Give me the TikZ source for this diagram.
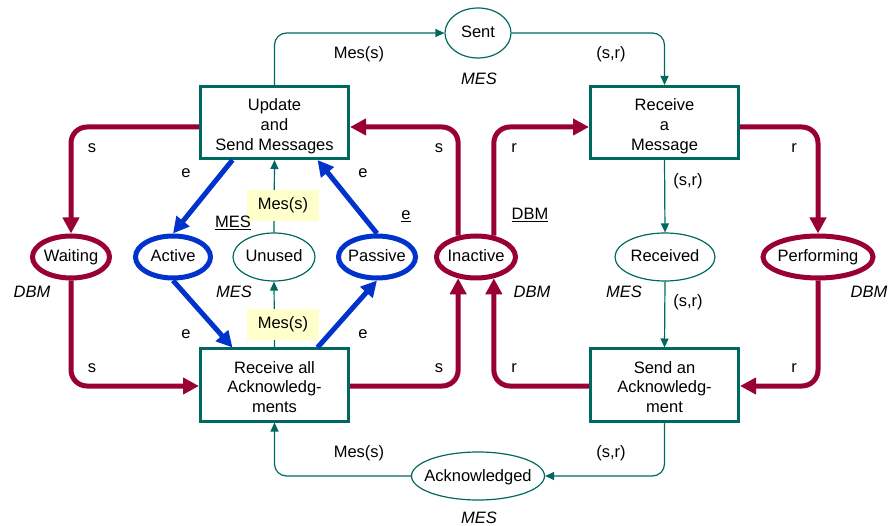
\documentclass[tikz,border=0pt]{standalone}
\usepackage{fontspec}
\setmainfont{Liberation Sans}
\usetikzlibrary{shapes.geometric,arrows.meta}
\definecolor{teal1}{HTML}{00695F}
\definecolor{maroon1}{HTML}{990033}
\definecolor{blue1}{HTML}{0033CC}
\definecolor{yel}{HTML}{FFFFCC}
\newcommand{\boxtext}[1]{\raisebox{-4pt}[\height][\depth]{\begin{tabular}{@{}c@{}}#1\end{tabular}}}
\begin{document}
\begin{tikzpicture}[x=1pt,y=-1pt, font=\fontsize{16.5}{20}\selectfont,
 trans/.style={draw=teal1, line width=3pt, minimum width=148pt, minimum height=72pt, inner sep=0pt},
 plc/.style={ellipse, draw=teal1, line width=1.2pt, inner ysep=0pt, inner xsep=-10pt, text height=12pt, text depth=2pt},
 tplc/.style={ellipse, draw=maroon1, line width=5pt, inner ysep=0pt, inner xsep=-10pt, minimum height=42pt, text height=12pt, text depth=2pt},
 bplc/.style={ellipse, draw=blue1, line width=5pt, inner ysep=0pt, inner xsep=-10pt, minimum height=42pt, text height=12pt, text depth=2pt},
 tarc/.style={draw=teal1, line width=1.2pt, -{Triangle[length=9pt,width=8pt]}, rounded corners=12pt},
 thk/.style={draw=maroon1, line width=5pt, -{Triangle[length=16pt,width=16pt]}, rounded corners=16pt},
 blu/.style={draw=blue1, line width=5pt, -{Triangle[length=16pt,width=16pt]}},
 lbl/.style={inner sep=0pt},
 yl/.style={fill=yel, minimum width=72pt, minimum height=31pt, inner sep=0pt},
]
\useasboundingbox (0,0) rectangle (891,526);
% transitions
\node[trans] (upd) at (274.5,122.5) {\boxtext{Update\\and\\Send Messages}};
\node[trans] (rmsg) at (664.5,122.5) {\boxtext{Receive\\a\\Message}};
\node[trans] (rall) at (274.5,385) {\boxtext{Receive all\\Acknowledg-\\ments}};
\node[trans] (sack) at (664.5,385) {\boxtext{Send an\\Acknowledg-\\ment}};
% places
\node[tplc, minimum width=77pt] (wait) at (71,257) {Waiting};
\node[bplc, minimum width=75pt] (act) at (173,257) {Active};
\node[plc, minimum width=82pt, minimum height=48pt] (unu) at (274,257) {Unused};
\node[bplc, minimum width=77pt] (pas) at (377,257) {Passive};
\node[tplc, minimum width=79pt] (ina) at (476,257) {Inactive};
\node[plc, minimum width=100pt, minimum height=48pt] (recd) at (665,257) {Received};
\node[tplc, minimum width=110pt] (perf) at (818,257) {Performing};
\node[plc, minimum width=66pt, minimum height=50pt] (sent) at (478,33) {Sent};
\node[plc, minimum width=133pt, minimum height=48pt] (ackd) at (478,476) {Acknowledged};
% thin arcs
\draw[tarc] (upd.north) |- (sent.west);
\draw[tarc] (sent.east) -| (rmsg.north);
\draw[tarc] (rmsg.south) -- (recd.north);
\draw[tarc] (recd.south) -- (sack.north);
\draw[tarc] (sack.south) |- (ackd.east);
\draw[tarc] (ackd.west) -| (rall.south);
\draw[tarc] (unu.north) -- (upd.south);
\draw[tarc] (rall.north) -- (unu.south);
% maroon arcs
\draw[thk] ([yshift=-4.5pt]upd.west) -| (wait.north);
\draw[thk] (wait.south) |- ([yshift=-1pt]rall.west);
\draw[thk] (ina.130) |- ([yshift=-4.5pt]upd.east);
\draw[thk] (ina.50) |- ([yshift=-4.5pt]rmsg.west);
\draw[thk] ([yshift=-1pt]rall.east) -| (ina.230);
\draw[thk] ([yshift=-1pt]sack.west) -| (ina.310);
\draw[thk] ([yshift=-4.5pt]rmsg.east) -| (perf.north);
\draw[thk] (perf.south) |- ([yshift=-1pt]sack.east);
% blue arcs
\draw[blu] ([xshift=-42pt]upd.south) -- (act.north);
\draw[blu] (pas.north) -- ([xshift=43pt]upd.south);
\draw[blu] (act.south) -- ([xshift=-42pt]rall.north);
\draw[blu] ([xshift=43pt]rall.north) -- (pas.south);
% yellow labels
\node[yl] (y1) at (283,205.5) {Mes(s)};
\node[yl] (y2) at (283,324.5) {Mes(s)};
% labels
\node[lbl] (l1) at (359,54) {Mes(s)};
\node[lbl] (l2) at (611,54) {(s,r)};
\node[lbl] (l3) at (479,79) {\itshape MES};
\node[lbl] (l4) at (92,148) {s};
\node[lbl] (l5) at (186,173) {e};
\node[lbl] (l6) at (363,173) {e};
\node[lbl] (l7) at (233,223) {\underline{MES}};
\node[lbl] (l8) at (406,216) {\underline{e}};
\node[lbl] (l9) at (439,148) {s};
\node[lbl] (l10) at (514,148) {r};
\node[lbl] (l11) at (688,181) {(s,r)};
\node[lbl] (l12) at (530,215) {\underline{DBM}};
\node[lbl] (l13) at (794,148) {r};
\node[lbl] (l14) at (32,292) {\itshape DBM};
\node[lbl] (l15) at (234,292) {\itshape MES};
\node[lbl] (l16) at (186,334) {e};
\node[lbl] (l17) at (363,334) {e};
\node[lbl] (l18) at (92,368) {s};
\node[lbl] (l19) at (439,368) {s};
\node[lbl] (l20) at (359,453) {Mes(s)};
\node[lbl] (l21) at (532,292) {\itshape DBM};
\node[lbl] (l22) at (624,292) {\itshape MES};
\node[lbl] (l23) at (688,302) {(s,r)};
\node[lbl] (l24) at (869,292) {\itshape DBM};
\node[lbl] (l25) at (514,368) {r};
\node[lbl] (l26) at (794,368) {r};
\node[lbl] (l27) at (611,453) {(s,r)};
\node[lbl] (l28) at (479,518) {\itshape MES};
\end{tikzpicture}
\end{document}
